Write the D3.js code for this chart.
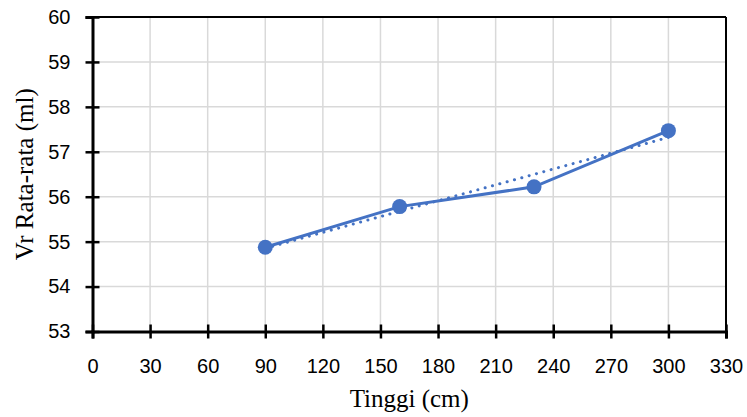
<!DOCTYPE html>
<html>
<head>
<meta charset="utf-8">
<script src="https://cdn.jsdelivr.net/npm/d3@7"></script>
<style>
  body { margin: 0; background: #fff; }
  svg { display: block; }
</style>
</head>
<body>
<svg id="chart" width="747" height="417"></svg>
<script>
// tinggi (cm) vs Vr rata-rata (ml)
const tinggi = [90, 160, 230, 300];
const vrRata = [54.875, 55.78, 56.22, 57.47];
const xTicks = [0, 30, 60, 90, 120, 150, 180, 210, 240, 270, 300, 330];
const yTicks = [53, 54, 55, 56, 57, 58, 59, 60];

const data = tinggi.map((t, i) => ({ x: t, y: vrRata[i] }));

const svg = d3.select('#chart');
const margin = { top: 17, right: 21, bottom: 85.5, left: 92.5 };
const width = +svg.attr("width") - margin.left - margin.right;
const height = +svg.attr("height") - margin.top - margin.bottom;
const g = svg.append("g").attr("transform", `translate(${margin.left},${margin.top})`);

const x = d3.scaleLinear().domain([0, 330]).range([0, width]);
const y = d3.scaleLinear().domain([53, 60]).range([height, 0]);

const blue = "#4472c4";
const tickFont = "'Liberation Sans', Arial, sans-serif";
const titleFont = "'Liberation Serif', 'Times New Roman', serif";

// gridlines
g.append("g")
    .selectAll("line.v")
    .data(xTicks.slice(1, -1))
    .join("line")
    .attr("x1", d => x(d)).attr("x2", d => x(d))
    .attr("y1", 0).attr("y2", height)
    .attr("stroke", "#d9d9d9").attr("stroke-width", 1.5);

g.append("g")
    .selectAll("line.h")
    .data(yTicks.slice(1, -1))
    .join("line")
    .attr("x1", 0).attr("x2", width)
    .attr("y1", d => y(d)).attr("y2", d => y(d))
    .attr("stroke", "#d9d9d9").attr("stroke-width", 1.5);

// frame top / right
g.append("line").attr("x1", 0).attr("x2", width).attr("y1", 0).attr("y2", 0)
    .attr("stroke", "#000").attr("stroke-width", 2);
g.append("line").attr("x1", width).attr("x2", width).attr("y1", 0).attr("y2", height)
    .attr("stroke", "#000").attr("stroke-width", 2);

// axes
const xAxis = g.append("g")
    .attr("transform", `translate(0,${height})`)
    .call(d3.axisBottom(x).tickValues(xTicks).tickSize(7).tickPadding(20));
xAxis.select(".domain").attr("stroke-width", 3);
xAxis.selectAll(".tick line").attr("y1", -7).attr("stroke-width", 2.5);
xAxis.selectAll("text")
    .style("font-family", tickFont).style("font-size", "20px").attr("fill", "#000");

const yAxis = g.append("g")
    .call(d3.axisLeft(y).tickValues(yTicks).tickFormat(d3.format("d")).tickSize(7).tickPadding(15));
yAxis.select(".domain").attr("stroke-width", 3);
yAxis.selectAll(".tick line").attr("x1", 7).attr("stroke-width", 2.5);
yAxis.selectAll("text")
    .style("font-family", tickFont).style("font-size", "20px").attr("fill", "#000");

// linear trendline from the points
const mx = d3.mean(data, d => d.x), my = d3.mean(data, d => d.y);
const slope = d3.sum(data, d => (d.x - mx) * (d.y - my)) / d3.sum(data, d => (d.x - mx) ** 2);
const trend = d3.extent(tinggi).map(t => ({ x: t, y: my + slope * (t - mx) }));

const line = d3.line().x(d => x(d.x)).y(d => y(d.y));

g.append("path")
    .datum(trend)
    .attr("d", line)
    .attr("fill", "none")
    .attr("stroke", blue)
    .attr("stroke-width", 3)
    .attr("stroke-linecap", "round")
    .attr("stroke-dasharray", "0.1 7.5");

g.append("path")
    .datum(data)
    .attr("d", line)
    .attr("fill", "none")
    .attr("stroke", blue)
    .attr("stroke-width", 3);

g.selectAll("circle")
    .data(data)
    .join("circle")
    .attr("cx", d => x(d.x))
    .attr("cy", d => y(d.y))
    .attr("r", 7.5)
    .attr("fill", blue);

// axis titles
svg.append("text")
    .attr("x", margin.left + width / 2)
    .attr("y", 407)
    .attr("text-anchor", "middle")
    .style("font-family", titleFont).style("font-size", "25px")
    .text("Tinggi (cm)");

svg.append("text")
    .attr("transform", `translate(33,${margin.top + height / 2}) rotate(-90)`)
    .attr("text-anchor", "middle")
    .style("font-family", titleFont).style("font-size", "25px")
    .text("Vr Rata-rata (ml)");
</script>
</body>
</html>
